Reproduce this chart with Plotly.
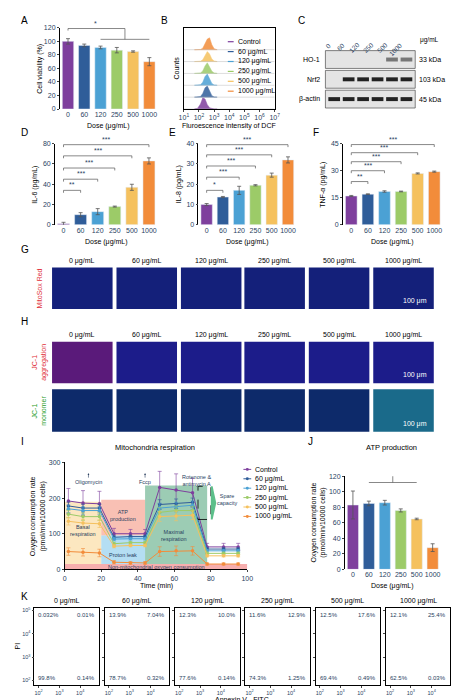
import plotly.graph_objects as go

W, H = 464, 700
FONT = "Liberation Sans"

doses = ["0", "60", "120", "250", "500", "1000"]
colors = ["#7E3F9D", "#2F5D99", "#4BA1D4", "#9CCB68", "#F5C15E", "#F28C3A"]
dose_labels = ["Control", "60 μg/mL", "120 μg/mL", "250 μg/mL", "500 μg/mL", "1000 μg/mL"]

# A viability
via = [100, 94, 91, 87, 85, 70]
via_err = [4, 2, 2, 4, 1, 6]
# D/E/F cytokines
il6 = [1, 10, 13, 18, 37, 63]
il6_err = [1.5, 2, 3, 0.5, 3, 3]
il8 = [10, 13.7, 17, 19.5, 24.5, 32]
il8_err = [0.5, 0.3, 2, 0.3, 1, 1.5]
tnf = [16, 17, 18.5, 18.5, 28.5, 29.5]
tnf_err = [0.3, 0.2, 0.4, 0.2, 0.3, 0.3]
# J ATP
atp = [83, 85, 86, 76, 65, 28]
atp_err = [18, 3, 3, 2, 1, 5]

# B histogram (log10 intensity vs relative count)
hist_x = [1.7, 1.9, 2.1, 2.25, 2.4, 2.55, 2.7, 2.85, 3.0, 3.2]
hist_h = [
    [0, 0.05, 0.4, 0.9, 0.8, 0.35, 0.1, 0.02, 0, 0],
    [0, 0, 0.05, 0.3, 0.75, 0.9, 0.45, 0.12, 0.02, 0],
    [0, 0, 0.05, 0.25, 0.7, 0.9, 0.5, 0.15, 0.03, 0],
    [0, 0, 0.04, 0.2, 0.6, 0.85, 0.55, 0.18, 0.04, 0],
    [0, 0, 0.03, 0.15, 0.5, 0.8, 0.6, 0.2, 0.05, 0],
    [0, 0, 0.02, 0.12, 0.45, 0.85, 0.95, 0.4, 0.08, 0],
]

# I oxygen consumption
t = [2, 10, 19, 27, 36, 44, 52, 61, 70, 78, 87, 95]
ocr = [
    [192, 186, 184, 100, 100, 100, 230, 223, 215, 63, 63, 63],
    [178, 172, 172, 90, 92, 92, 182, 184, 188, 57, 57, 57],
    [170, 165, 165, 85, 86, 86, 172, 175, 180, 52, 52, 52],
    [155, 148, 148, 72, 75, 75, 160, 165, 165, 45, 45, 45],
    [135, 130, 128, 65, 67, 67, 148, 150, 152, 38, 38, 38],
    [50, 48, 46, 20, 18, 18, 50, 52, 52, 15, 15, 15],
]
ocr_err = [35, 35, 35, 15, 12, 12, 45, 45, 40, 10, 10, 10]

# K annexin quadrants (UL, UR, LL, LR)
k_pct = [
    ["0.032%", "0.01%", "99.8%", "0.14%"],
    ["13.9%", "7.04%", "78.7%", "0.32%"],
    ["12.3%", "10.0%", "77.6%", "0.14%"],
    ["11.6%", "12.9%", "74.3%", "1.25%"],
    ["12.5%", "17.6%", "69.4%", "0.49%"],
    ["12.1%", "25.4%", "62.5%", "0.03%"],
]
k_titles = ["0 μg/mL", "60 μg/mL", "120 μg/mL", "250 μg/mL", "500 μg/mL", "1000 μg/mL"]


def X(px):
    return px / W


def Y(py):
    return 1 - py / H


fig = go.Figure()
layout = {}
shapes = []
ann = []
n_ax = [0]


def text(px, py, txt, size=7, angle=0, xanchor="center", color="black"):
    ann.append(dict(x=X(px), y=Y(py), xref="paper", yref="paper", text=txt, showarrow=False,
                    textangle=angle, xanchor=xanchor, yanchor="middle",
                    font=dict(size=size, family=FONT, color=color)))


def new_axes(x0, x1, y0, y1, xa=None, ya=None, xtitle=None, ytitle=None, ytoff=20):
    n_ax[0] += 1
    n = n_ax[0]
    base = dict(showgrid=False, zeroline=False, showline=True, linecolor="black",
                linewidth=0.8, ticks="outside", ticklen=2, tickwidth=0.8,
                tickfont=dict(size=7, family=FONT))
    xd = dict(base, domain=[X(x0), X(x1)], anchor=f"y{n}")
    yd = dict(base, domain=[Y(y1), Y(y0)], anchor=f"x{n}")
    xd.update(xa or {})
    yd.update(ya or {})
    layout[f"xaxis{n}"] = xd
    layout[f"yaxis{n}"] = yd
    if xtitle:
        text((x0 + x1) / 2, y1 + 17, xtitle)
    if ytitle:
        text(x0 - ytoff, (y0 + y1) / 2, ytitle, angle=-90)
    return f"x{n}", f"y{n}"


def label(px, py, txt):
    text(px, py, txt, size=10, xanchor="left")


def bar_panel(x0, x1, y0, y1, vals, errs, ytitle, yrange, dtick, brackets, ytoff=20):
    xr, yr = new_axes(x0, x1, y0, y1,
                      dict(showline=False, ticks="", type="category"),
                      dict(range=yrange, dtick=dtick),
                      xtitle="Dose (μg/mL)", ytitle=ytitle, ytoff=ytoff)
    fig.add_trace(go.Bar(x=doses, y=vals, marker_color=colors, width=0.7,
                         error_y=dict(type="data", array=errs, visible=True, thickness=0.8, width=2,
                                      color="#555"),
                         xaxis=xr, yaxis=yr, showlegend=False))
    for a, b, yv, txt in brackets:
        shapes.append(dict(type="path", xref=xr, yref=yr, line=dict(width=0.7, color="#555"),
                           path=f"M {a},{yv - yrange[1] * 0.03} L {a},{yv} L {b},{yv} L {b},{yv - yrange[1] * 0.03}"))
        ann.append(dict(x=(a + b) / 2, y=yv, xref=xr, yref=yr, text=txt, showarrow=False,
                        yanchor="bottom", font=dict(size=7, family=FONT)))
    return xr, yr


# A
xr, yr = bar_panel(48, 148, 16, 98, via, via_err, "Cell viability (%)", [0, 120], 20, [])
shapes.append(dict(type="path", xref=xr, yref=yr, line=dict(width=0.7, color="#555"),
                   path="M 0,116 L 0,119 L 3.5,119 L 3.5,103"))
shapes.append(dict(type="line", xref=xr, yref=yr, x0=2, x1=5, y0=103, y1=103,
                   line=dict(width=0.7, color="#555")))
ann.append(dict(x=1.7, y=119, xref=xr, yref=yr, text="*", showarrow=False, yanchor="bottom",
                font=dict(size=7)))
label(6, 9, "A")

# B
xr, yr = new_axes(175, 268, 16, 98,
                  dict(range=[1, 7], tickvals=list(range(1, 8)),
                       ticktext=[f"10<sup>{i}</sup>" for i in range(1, 8)], mirror=True),
                  dict(showticklabels=False, ticks="", range=[0, 6.5], mirror=True),
                  xtitle="Fluroescence intensity of DCF", ytitle="Counts", ytoff=8)
for i in range(5, -1, -1):
    off = i * 0.95
    fig.add_trace(go.Scatter(x=hist_x + hist_x[::-1], y=[off + h for h in hist_h[i]] + [off] * len(hist_x),
                             fill="toself", fillcolor=colors[i], line=dict(width=0.5, color=colors[i]),
                             opacity=0.85, mode="lines", xaxis=xr, yaxis=yr, showlegend=False,
                             hoverinfo="skip"))
    shapes.append(dict(type="line", xref=xr, yref=yr, x0=1, x1=7, y0=off, y1=off,
                       line=dict(width=0.5, color="#bbb")))
for i, lab in enumerate(dose_labels):
    py = 30 + i * 10
    shapes.append(dict(type="line", xref="paper", yref="paper", x0=X(220), x1=X(226), y0=Y(py), y1=Y(py),
                       line=dict(width=1.2, color=colors[i])))
    text(228, py, lab, xanchor="left")
label(150, 9, "B")

# C western blot placeholders
label(290, 9, "C")
for j, d in enumerate(doses):
    ann.append(dict(x=X(330 + j * 14.5), y=Y(27), xref="paper", yref="paper", text=d, textangle=-45,
                    showarrow=False, font=dict(size=6.5, family=FONT)))
text(415, 28, "μg/mL", size=6.5, xanchor="left")
for k, (nm, kda) in enumerate([("HO-1", "33 kDa"), ("Nrf2", "103 kDa"), ("β-actin", "45 kDa")]):
    y0 = 39 + k * 20
    shapes.append(dict(type="rect", xref="paper", yref="paper", x0=X(320), x1=X(412), y0=Y(y0 + 18),
                       y1=Y(y0), fillcolor="#e4e4e4", line=dict(width=0.6, color="#333")))
    for j in range(6):
        if k == 0 and j < 4:
            continue
        if k == 1 and j == 0:
            continue
        shapes.append(dict(type="rect", xref="paper", yref="paper", x0=X(323 + j * 14.8),
                           x1=X(335 + j * 14.8), y0=Y(y0 + 11), y1=Y(y0 + 7),
                           fillcolor="#222" if k else "#777", line=dict(width=0)))
    text(317, y0 + 9, nm, xanchor="right")
    text(414, y0 + 9, kda, xanchor="left")

# D E F
bar_panel(43, 148, 133, 215, il6, il6_err, "IL-6 (pg/mL)", [0, 80], 20,
          [(0, 1, 34, "**"), (0, 2, 45, "***"), (0, 3, 56, "***"), (0, 4, 68, "***"), (0, 5, 79, "***")])
label(6, 122, "D")
bar_panel(190, 290, 133, 215, il8, il8_err, "IL-8 (pg/mL)", [0, 40], 10,
          [(0, 1, 17, "*"), (0, 2, 23.5, "***"), (0, 3, 29, "***"), (0, 4, 34.5, "***"), (0, 5, 39.5, "***")])
label(158, 122, "E")
bar_panel(338, 440, 133, 215, tnf, tnf_err, "TNF-α (pg/mL)", [0, 45], 15,
          [(0, 1, 24, "**"), (0, 2, 30, "***"), (0, 3, 35, "***"), (0, 4, 40, "***"), (0, 5, 44.5, "***")])
label(305, 122, "F")

# G / H microscopy placeholders
img_x = [40, 106, 172, 237, 303, 369]
label(6, 240, "G")
label(6, 313, "H")
rows = [(258, 300, "#14207a", "MitoSox Red", "#e0303a"), (333, 375, "#1c1c8a", "JC-1<br>aggregation", "#e0303a"),
        (381, 424, "#0d2a6a", "JC-1<br>monomer", "#2ca02c")]
for r, (y0, y1, col, txt, tc) in enumerate(rows):
    for j, x0 in enumerate(img_x):
        fill = col
        if r == 1 and j == 0:
            fill = "#5a1a7a"
        if r == 2 and j == 5:
            fill = "#1a6a8a"
        shapes.append(dict(type="rect", xref="paper", yref="paper", x0=X(x0), x1=X(x0 + 62), y0=Y(y1),
                           y1=Y(y0), fillcolor=fill, line=dict(width=0)))
    text(27, (y0 + y1) / 2, txt, angle=-90, color=tc)
    text(426, y1 - 8, "100 μm", xanchor="right", color="white")
for yy in (252, 326):
    for j, x0 in enumerate(img_x):
        text(x0 + 31, yy, k_titles[j])

# I respiration
label(6, 434, "I")
xr, yr = new_axes(53, 240, 455, 563,
                  dict(range=[0, 100], dtick=20),
                  dict(range=[0, 300], dtick=100),
                  xtitle="Time (min)", ytitle="Oxygen consumption rate<br>(pmol/min/10000 cells)", ytoff=27)
regions = [
    (0, 20, 15, 190, "rgba(250,215,150,0.6)"),
    (20, 44, 95, 195, "rgba(245,150,130,0.6)"),
    (20, 44, 15, 95, "rgba(130,200,235,0.6)"),
    (44, 78, 15, 235, "rgba(90,170,130,0.6)"),
    (0, 100, 0, 15, "rgba(240,120,120,0.6)"),
]
for x0, x1, y0, y1, c in regions:
    shapes.append(dict(type="rect", xref=xr, yref=yr, x0=x0, x1=x1, y0=y0, y1=y1, fillcolor=c,
                       line=dict(width=0), layer="below"))
for i in range(6):
    fig.add_trace(go.Scatter(x=t, y=ocr[i], name=dose_labels[i], mode="lines+markers",
                             line=dict(color=colors[i], width=1), marker=dict(size=3.5, color=colors[i]),
                             error_y=dict(type="data", array=ocr_err if i == 0 else [e * 0.3 for e in ocr_err],
                                          thickness=0.6, width=2, color=colors[i]),
                             xaxis=xr, yaxis=yr, showlegend=False))
    py = 462 + i * 9.5
    shapes.append(dict(type="line", xref="paper", yref="paper", x0=X(236), x1=X(244), y0=Y(py), y1=Y(py),
                       line=dict(width=1, color=colors[i])))
    shapes.append(dict(type="circle", xref="paper", yref="paper", x0=X(238.5), x1=X(241.5),
                       y0=Y(py + 1.5), y1=Y(py - 1.5), fillcolor=colors[i], line=dict(width=0)))
    text(246, py, dose_labels[i], xanchor="left")
for tx, yv, txt in [(13, 270, "Oligomycin"), (44, 270, "Fccp"), (72, 265, "Rotenone &<br>antimycin A")]:
    ann.append(dict(x=tx, y=yv, xref=xr, yref=yr, text=txt, showarrow=True, arrowhead=2, arrowsize=0.6,
                    arrowwidth=0.6, ax=0, ay=14, font=dict(size=5.5, family=FONT), yanchor="bottom"))
for tx, yv, txt in [(10, 110, "Basal<br>respiration"), (32, 150, "ATP<br>production"), (32, 40, "Proton leak"),
                    (60, 95, "Maximal<br>respiration"), (50, 8, "Non-mitochondrial oxygen consumption"),
                    (89, 195, "Spare<br>capacity")]:
    ann.append(dict(x=tx, y=yv, xref=xr, yref=yr, text=txt, showarrow=False, font=dict(size=5.5, family=FONT)))
shapes.append(dict(type="rect", xref=xr, yref=yr, x0=73, x1=80, y0=140, y1=233,
                   line=dict(width=0.8, color="black", dash="dash")))
shapes.append(dict(type="path", xref=xr, yref=yr, fillcolor="#5cbf8a", line=dict(width=0),
                   path="M 80,233 L 81,233 L 83,186 L 81,140 L 80,140 Z"))
text(145, 440, "Mitochondria respiration", size=7.5)

# J
xr, yr = bar_panel(340, 438, 469, 563, atp, atp_err,
                   "Oxygen consumption rate<br>(pmol/min/10000 cells)", [0, 120], 20,
                   [(0, 5, 135, "**")], ytoff=27)
shapes.append(dict(type="path", xref=xr, yref=yr, line=dict(width=0.7, color="#555"),
                   path="M 0,121 L 0,124 L 2.5,124 L 2.5,112"))
shapes.append(dict(type="line", xref=xr, yref=yr, x0=1, x1=4, y0=112, y1=112, line=dict(width=0.7, color="#555")))
ann.append(dict(x=1.2, y=124, xref=xr, yref=yr, text="ns", showarrow=False, yanchor="bottom", font=dict(size=6)))
text(388, 440, "ATP production", size=7.5)
label(300, 434, "J")

# K annexin panels
label(6, 590, "K")
for j in range(6):
    x0 = 22 + j * 72
    xr, yr = new_axes(x0, x0 + 66, 602, 680,
                      dict(type="log", range=[1.8, 4.9], tickvals=[100, 1000, 10000], mirror=True,
                           ticktext=["10<sup>2</sup>", "10<sup>3</sup>", "10<sup>4</sup>"],
                           tickfont=dict(size=5.5, family=FONT)),
                      dict(type="log", range=[1.8, 5.1], tickvals=[100, 1000, 10000, 100000], mirror=True,
                           showticklabels=(j == 0),
                           ticktext=["10<sup>2</sup>", "10<sup>3</sup>", "10<sup>4</sup>", "10<sup>5</sup>"],
                           tickfont=dict(size=5.5, family=FONT)))
    shapes.append(dict(type="circle", xref=xr, yref=yr, x0=2.0, x1=2.9, y0=1.95, y1=2.75,
                       fillcolor="rgba(60,200,170,0.6)", line=dict(width=0), layer="below"))
    if j > 0:
        shapes.append(dict(type="circle", xref=xr, yref=yr, x0=2.1, x1=2.8, y0=3.1, y1=3.9,
                           fillcolor="rgba(80,120,220,0.35)", line=dict(width=0), layer="below"))
    shapes.append(dict(type="line", xref=xr, yref=yr, x0=1.8, x1=4.9, y0=3, y1=3,
                       line=dict(width=0.6, color="black")))
    shapes.append(dict(type="line", xref=xr, yref=yr, x0=3, x1=3, y0=1.8, y1=5.1,
                       line=dict(width=0.6, color="black")))
    for (px, py, xa, ya), txt in zip([(0.03, 0.97, "left", "top"), (0.97, 0.97, "right", "top"),
                                      (0.03, 0.03, "left", "bottom"), (0.97, 0.03, "right", "bottom")], k_pct[j]):
        ann.append(dict(x=px, y=py, xref=f"{xr} domain", yref=f"{yr} domain", text=txt, showarrow=False,
                        xanchor=xa, yanchor=ya, font=dict(size=6, family=FONT)))
    text(x0 + 33, 595, k_titles[j])
text(235, 694, "Annexin V - FITC")
text(5, 640, "PI", angle=-90)

fig.update_layout(**layout)
fig.update_layout(
    width=W, height=H, margin=dict(l=0, r=0, t=0, b=0), plot_bgcolor="white", paper_bgcolor="white",
    font=dict(family=FONT, size=7), shapes=shapes, annotations=ann, bargap=0.3, showlegend=False,
)
fig.write_html("out.html")
